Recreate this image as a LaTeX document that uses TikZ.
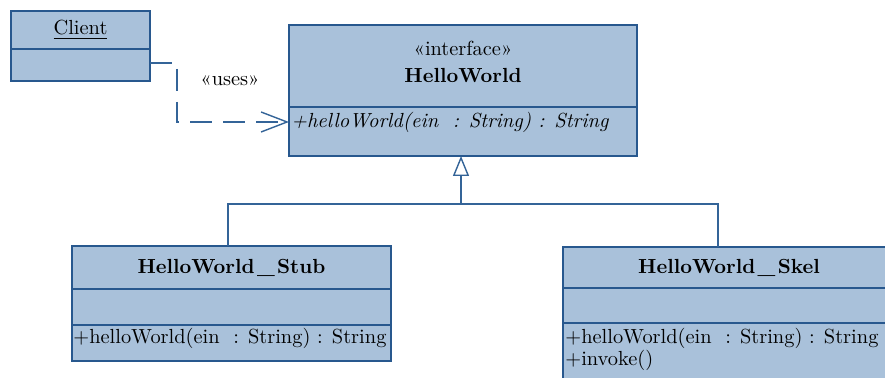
\documentclass[tikz,border=0pt]{standalone}
\usepackage{fontspec}
\setmainfont{Latin Modern Roman}[Scale=1.02]
\usetikzlibrary{arrows.meta}
\definecolor{umlfill}{RGB}{169,193,218}
\definecolor{umlline}{RGB}{40,88,142}
\definecolor{connline}{RGB}{52,100,152}
\newcommand{\wideus}{\kern1.2pt\_\kern1.2pt}
\tikzset{
  compartment/.style={draw=umlline, fill=umlfill, line width=1pt, rectangle,
    inner sep=0pt, outer sep=0pt, anchor=north west},
  member/.style={inner sep=0pt, anchor=west, font=\normalsize},
  heading/.style={inner sep=0pt, font=\normalsize},
  conn/.style={draw=connline, line width=0.7pt},
  usesline/.style={conn, dash pattern=on 11pt off 5.5pt,
    -{Straight Barb[length=13pt, width=10pt, line width=0.7pt]}},
  inherit/.style={conn, -{Triangle[open, length=10pt, width=8pt, line width=0.7pt]}},
}
\begin{document}
\begin{tikzpicture}[x=0.5pt, y=-0.5pt]
  \clip (0,0) rectangle (885,378);
  \fill[white] (0,0) rectangle (885,378);

  % Client
  \node[compartment, minimum width=69.5pt, minimum height=19pt] (clienttitle) at (11,11) {};
  \node[compartment, minimum width=69.5pt, minimum height=16pt] (clientattr) at (11,49) {};
  \node[heading] (clientname) at (clienttitle.center) {\underline{Client}};

  % HelloWorld interface
  \node[compartment, minimum width=174pt, minimum height=41pt] (hwtitle) at (289,25) {};
  \node[compartment, minimum width=174pt, minimum height=24.5pt] (hwops) at (289,107) {};
  \node[heading] (hwstereo) at (463,48) {«interface»};
  \node[heading, font=\bfseries] (hwname) at (463,76) {HelloWorld};
  \node[member] (hwop) at (291,122) {\textit{+helloWorld(ein~~: String) : String}};

  % HelloWorld_Stub
  \node[compartment, minimum width=159.5pt, minimum height=21.5pt] (stubtitle) at (72,246) {};
  \node[compartment, minimum width=159.5pt, minimum height=18pt] (stubattr) at (72,289) {};
  \node[compartment, minimum width=159.5pt, minimum height=18pt] (stubops) at (72,325) {};
  \node[heading, font=\bfseries] (stubname) at (stubtitle.center) {HelloWorld\wideus Stub};
  \node[member] (stubop) at (73,338) {+helloWorld(ein~~: String) : String};

  % HelloWorld_Skel
  \node[compartment, minimum width=166pt, minimum height=20.5pt] (skeltitle) at (563,247) {};
  \node[compartment, minimum width=166pt, minimum height=17.5pt] (skelattr) at (563,288) {};
  \node[compartment, minimum width=166pt, minimum height=40pt] (skelops) at (563,323) {};
  \node[heading, font=\bfseries] (skelname) at (skeltitle.center) {HelloWorld\wideus Skel};
  \node[member] (skelop) at (565,338) {+helloWorld(ein~~: String) : String};
  \node[member] (skelinvoke) at (565,360) {+invoke()};

  % dependency Client -> HelloWorld
  \draw[usesline] ([yshift=1pt]clientattr.east) -- ++(27,0) |- (hwops.west |- hwop.west);
  \node[heading] (useslabel) at (230,81) {«uses»};

  % realization Stub/Skel -> HelloWorld
  \coordinate (bus) at (461,204);
  \coordinate (stubjoin) at (228,204);
  \coordinate (skeljoin) at (718,204);
  \draw[conn] (stubjoin |- stubtitle.north) -- (stubjoin) -- (skeljoin) -- (skeljoin |- skeltitle.north);
  \draw[inherit] (bus) -- (bus |- hwops.south);
\end{tikzpicture}
\end{document}
